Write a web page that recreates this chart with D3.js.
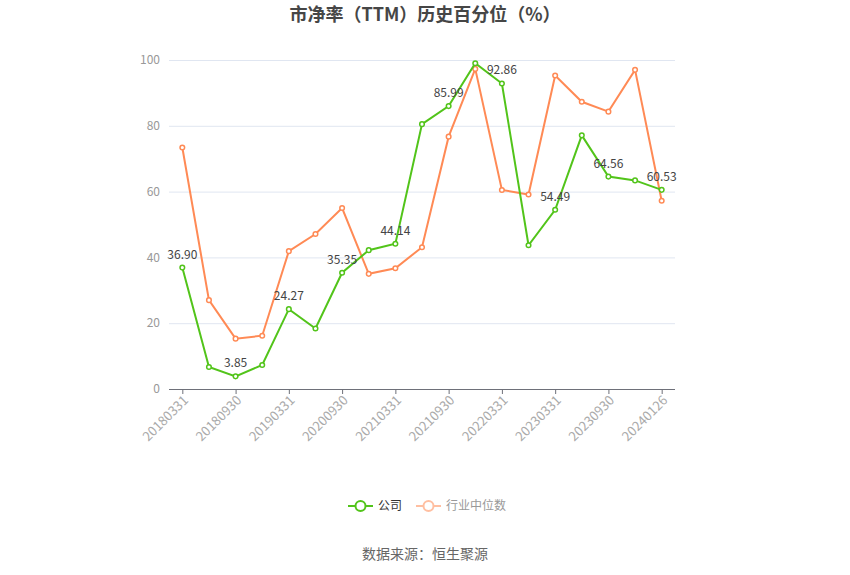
<!DOCTYPE html>
<html lang="zh">
<head>
<meta charset="utf-8">
<title>市净率（TTM）历史百分位（%）</title>
<script src="https://cdn.jsdelivr.net/npm/d3@7"></script>
<style>
  body { margin: 0; background: #fff; }
  text { font-family: "Noto Sans CJK SC", "Noto Sans", sans-serif; }
</style>
</head>
<body>
<script>
// data
var dates = ["20180331", "20180630", "20180930", "20181231", "20190331", "20190630",
             "20200930", "20201231", "20210331", "20210630", "20210930", "20211231",
             "20220331", "20220930", "20230331", "20230630", "20230930", "20231231", "20240126"];
var company = [36.90, 6.7, 3.85, 7.3, 24.27, 18.4, 35.35, 42.2, 44.14, 80.5, 85.99, 99.0,
               92.86, 43.7, 54.49, 77.1, 64.56, 63.4, 60.53];
var industry = [73.4, 27.0, 15.3, 16.2, 41.9, 47.1, 55.0, 35.0, 36.7, 43.1, 76.7, 97.3,
                60.5, 59.1, 95.3, 87.3, 84.3, 97.0, 57.2];
var yTicks = [0, 20, 40, 60, 80, 100];
var seriesNames = ["公司", "行业中位数"];

var w = 850, h = 575;
var mLeft = 169, mRight = 675, mTop = 60, mBottom = 389;
var green = "#52C41A", orange = "#FF8A55";

var svg = d3.select("body").append("svg")
    .attr("width", w)
    .attr("height", h);

var xScale = d3.scalePoint()
    .domain(dates)
    .range([mLeft, mRight])
    .padding(0.5);

var yScale = d3.scaleLinear()
    .domain([0, 100])
    .range([mBottom, mTop]);

// grid
svg.append("g")
    .selectAll("line")
    .data(yTicks.slice(1))
    .enter()
    .append("line")
    .attr("x1", mLeft).attr("x2", mRight)
    .attr("y1", function(d) { return yScale(d) + 0.5; })
    .attr("y2", function(d) { return yScale(d) + 0.5; })
    .attr("stroke", "#E0E6F1");

// y labels
svg.append("g")
    .selectAll("text")
    .data(yTicks)
    .enter()
    .append("text")
    .attr("x", mLeft - 9)
    .attr("y", function(d) { return yScale(d); })
    .attr("dy", "0.35em")
    .attr("text-anchor", "end")
    .attr("font-size", 12)
    .attr("fill", "#999")
    .text(function(d) { return d; });

// x axis
var xAxis = d3.axisBottom(xScale)
    .tickValues(dates.filter(function(d, i) { return i % 2 === 0; }))
    .tickSize(5)
    .tickSizeOuter(0);

var gx = svg.append("g")
    .attr("transform", "translate(0," + mBottom + ")")
    .call(xAxis);
gx.select(".domain").attr("stroke", "#6E7079").attr("d", "M" + mLeft + ",0.5H" + mRight);
gx.selectAll(".tick line").attr("stroke", "#6E7079");
gx.selectAll(".tick text")
    .attr("fill", "#aaa")
    .attr("font-size", 13)
    .attr("font-family", "\"Noto Sans\", sans-serif")
    .attr("text-anchor", "end")
    .attr("dy", "0.35em")
    .attr("transform", "translate(3,9) rotate(-45)")
    .attr("y", 0)
    .attr("x", 0);

var line = d3.line()
    .x(function(d, i) { return xScale(dates[i]); })
    .y(function(d) { return yScale(d); });

function drawSeries(values, color) {
    svg.append("path")
        .datum(values)
        .attr("fill", "none")
        .attr("stroke", color)
        .attr("stroke-width", 2)
        .attr("d", line);
    svg.append("g")
        .selectAll("circle")
        .data(values)
        .enter()
        .append("circle")
        .attr("cx", function(d, i) { return xScale(dates[i]); })
        .attr("cy", function(d) { return yScale(d); })
        .attr("r", 2.3)
        .attr("fill", "#fff")
        .attr("stroke", color)
        .attr("stroke-width", 1.5);
}

drawSeries(industry, orange);
drawSeries(company, green);

// labels on the company line
svg.append("g")
    .selectAll("text")
    .data(company.filter(function(d, i) { return i % 2 === 0; }))
    .enter()
    .append("text")
    .attr("x", function(d, i) { return xScale(dates[i * 2]); })
    .attr("y", function(d) { return yScale(d) - 9; })
    .attr("text-anchor", "middle")
    .attr("font-size", 12)
    .attr("fill", "#444")
    .text(function(d) { return d.toFixed(2); });

// title
svg.append("text")
    .attr("x", w / 2)
    .attr("y", 21)
    .attr("text-anchor", "middle")
    .attr("font-size", 18)
    .attr("font-weight", "bold")
    .attr("fill", "#464646")
    .text("市净率（TTM）历史百分位（%）");

// legend
var legend = [
    { name: seriesNames[0], color: green, text: "#333", x: 348 },
    { name: seriesNames[1], color: "#FFBFA1", text: "#999", x: 416 }
];
var lg = svg.append("g").selectAll("g")
    .data(legend)
    .enter()
    .append("g")
    .attr("transform", function(d) { return "translate(" + d.x + ",506)"; });
lg.append("line")
    .attr("x1", 0).attr("x2", 25)
    .attr("stroke", function(d) { return d.color; })
    .attr("stroke-width", 2);
lg.append("circle")
    .attr("cx", 12.5).attr("r", 5)
    .attr("fill", "#fff")
    .attr("stroke", function(d) { return d.color; })
    .attr("stroke-width", 2);
lg.append("text")
    .attr("x", 30)
    .attr("dy", "0.35em")
    .attr("font-size", 12)
    .attr("fill", function(d) { return d.text; })
    .text(function(d) { return d.name; });

// source
svg.append("text")
    .attr("x", w / 2)
    .attr("y", 559)
    .attr("text-anchor", "middle")
    .attr("font-size", 14)
    .attr("fill", "#666")
    .text("数据来源：恒生聚源");
</script>
</body>
</html>
